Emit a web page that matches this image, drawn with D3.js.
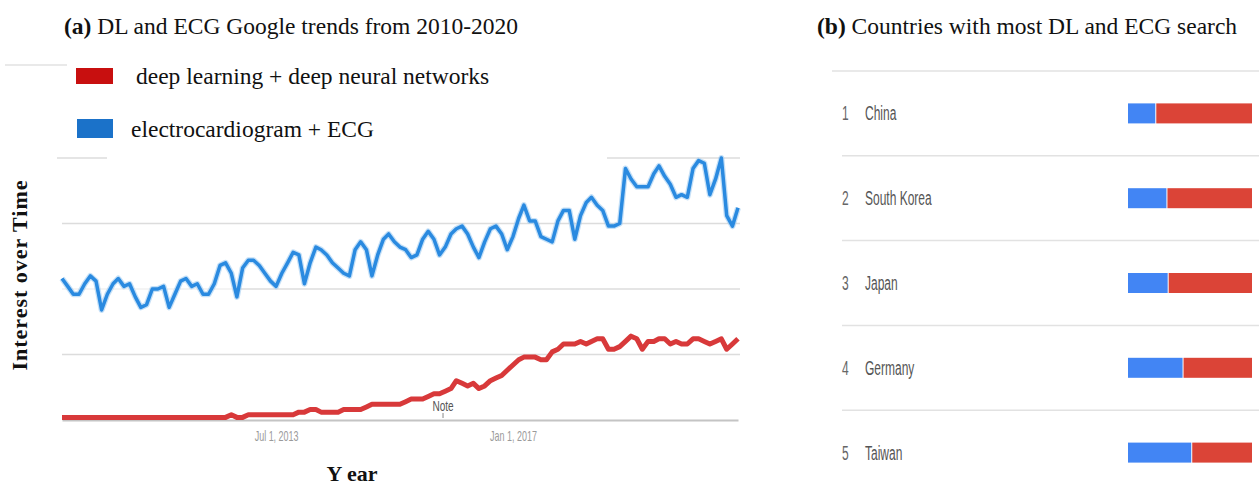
<!DOCTYPE html>
<html>
<head>
<meta charset="utf-8">
<script src="https://cdn.jsdelivr.net/npm/d3@7"></script>
<style>
  body { margin: 0; background: #fff; }
</style>
</head>
<body>
<script>
'use strict';

// monthly Google trends values, May 2010 - May 2020
const startMonth = new Date(2010, 4, 1);
const endMonth = new Date(2020, 4, 1);

const ecgTrend = [
  54, 51, 48, 48, 52, 55, 53, 42, 48, 52,
  54, 51, 52, 47, 43, 44, 50, 50, 51, 43,
  48, 53, 54, 51, 52, 48, 48, 52, 59, 60,
  56, 47, 58, 61, 61, 59, 56, 53, 51, 56,
  60, 64, 63, 52, 60, 66, 65, 63, 60, 58,
  56, 55, 65, 68, 65, 55, 63, 69, 71, 68,
  66, 65, 62, 63, 69, 72, 69, 63, 66, 71,
  73, 74, 71, 66, 62, 68, 73, 74, 71, 65,
  70, 77, 82, 76, 76, 70, 69, 68, 76, 80,
  80, 69, 78, 83, 85, 82, 80, 74, 74, 75,
  96, 92, 89, 89, 89, 94, 97, 93, 90, 85,
  86, 85, 96, 99, 98, 86, 92, 100, 78, 74,
  81
];

const dlTrend = [
  1, 1, 1, 1, 1, 1, 1, 1, 1, 1,
  1, 1, 1, 1, 1, 1, 1, 1, 1, 1,
  1, 1, 1, 1, 1, 1, 1, 1, 1, 1,
  2, 1, 1, 2, 2, 2, 2, 2, 2, 2,
  2, 2, 3, 3, 4, 4, 3, 3, 3, 3,
  4, 4, 4, 4, 5, 6, 6, 6, 6, 6,
  6, 7, 8, 8, 8, 9, 10, 10, 11, 12,
  15, 14, 13, 14, 12, 13, 15, 16, 17, 19,
  21, 23, 24, 24, 24, 23, 23, 26, 27, 29,
  29, 29, 30, 29, 30, 31, 31, 27, 27, 28,
  30, 32, 31, 27, 30, 30, 31, 31, 29, 30,
  29, 29, 31, 31, 30, 29, 30, 31, 27, 29,
  31
];

const trendTicks = [new Date(2013, 6, 1), new Date(2017, 0, 1)];
const gridValues = [25, 75];
const noteDate = new Date(2015, 11, 20);

const legendLabels = ["deep learning + deep neural networks", "electrocardiogram + ECG"];

// countries with most searches, share of ECG (blue) vs DL (red)
const countries = ["China", "South Korea", "Japan", "Germany", "Taiwan"];
const ecgShare = [22, 31, 32, 44, 51];
const dlShare = [78, 69, 68, 56, 49];

(function() {

  let svg = "";
  let map = "";
  const lineBlue = "#2a8ae0";
  const lineRed = "#d8393a";
  const barBlue = "#4285f4";
  const barRed = "#db4437";
  const serif = "'Liberation Serif', 'Times New Roman', serif";
  const sans = "'Liberation Sans', Arial, sans-serif";

  window.onload = function() {
    svg = d3.select('body')
      .append('svg')
      .attr('width', 1259)
      .attr('height', 486)
      .style('display', 'block')
      .style('background', '#fff');

    map = drawAxes();
    plotTrends(map);
    makeLegend();
    makeLabels();
    makeCountries();
  }

  // gridlines, baseline, date ticks
  function drawAxes() {
    let xScale = d3.scaleTime()
      .domain([startMonth, endMonth])
      .range([62, 738]);

    let yScale = d3.scaleLinear()
      .domain([0, 100])
      .range([420, 158]);

    let grid = svg.append('g');
    grid.selectAll('line')
      .data(gridValues)
      .enter()
      .append('line')
        .attr('x1', 62)
        .attr('x2', 740)
        .attr('y1', d => yScale(d))
        .attr('y2', d => yScale(d))
        .attr('stroke', '#dcdcdc')
        .attr('stroke-width', 1.5);

    // the 50 and 100 gridlines are partly covered in the original
    grid.append('line')
      .attr('x1', 62).attr('x2', 240)
      .attr('y1', yScale(50)).attr('y2', yScale(50))
      .attr('stroke', '#f0f0f0')
      .attr('stroke-width', 1.5);
    grid.append('line')
      .attr('x1', 240).attr('x2', 740)
      .attr('y1', yScale(50)).attr('y2', yScale(50))
      .attr('stroke', '#dcdcdc')
      .attr('stroke-width', 1.5);
    [[57, 107], [607, 740]].forEach(function(s) {
      grid.append('line')
        .attr('x1', s[0]).attr('x2', s[1])
        .attr('y1', yScale(100)).attr('y2', yScale(100))
        .attr('stroke', '#dcdcdc')
        .attr('stroke-width', 1.5);
    });
    grid.append('line')
      .attr('x1', 5).attr('x2', 67)
      .attr('y1', 65).attr('y2', 65)
      .attr('stroke', '#e2e2e2')
      .attr('stroke-width', 1.5);

    let xAxis = d3.axisBottom(xScale)
      .tickValues(trendTicks)
      .tickSize(0)
      .tickPadding(0)
      .tickFormat(d3.timeFormat('%b %-d, %Y'));

    let axis = svg.append('g')
      .attr('transform', 'translate(0, 420)')
      .call(xAxis);
    axis.select('.domain')
      .attr('stroke', '#c4c4c4')
      .attr('stroke-width', 2);
    axis.selectAll('.tick text')
      .attr('y', 0)
      .attr('dy', 0)
      .attr('transform', 'translate(0, 21) scale(0.64, 1)')
      .style('font-family', sans)
      .style('font-size', '14px')
      .attr('fill', '#9a9a9a');

    return { x: xScale, y: yScale };
  }

  // draw both trend lines
  function plotTrends(map) {
    let months = d3.timeMonth.range(startMonth, d3.timeMonth.offset(endMonth, 1));

    let line = d3.line()
      .x((d, i) => map.x(months[i]))
      .y(d => map.y(d));

    // soft halo like the screenshot
    svg.append('path')
      .datum(ecgTrend)
      .attr('d', line)
      .attr('fill', 'none')
      .attr('stroke', '#9fcbf2')
      .attr('stroke-width', 6)
      .attr('stroke-linejoin', 'round')
      .attr('opacity', 0.6);
    svg.append('path')
      .datum(ecgTrend)
      .attr('d', line)
      .attr('fill', 'none')
      .attr('stroke', lineBlue)
      .attr('stroke-width', 3.5)
      .attr('stroke-linejoin', 'round');

    svg.append('path')
      .datum(dlTrend)
      .attr('d', line)
      .attr('fill', 'none')
      .attr('stroke', lineRed)
      .attr('stroke-width', 5)
      .attr('stroke-linejoin', 'round');

    // "Note" marker
    let nx = map.x(noteDate);
    svg.append('line')
      .attr('x1', nx).attr('x2', nx)
      .attr('y1', 413).attr('y2', 418)
      .attr('stroke', '#888')
      .attr('stroke-width', 1);
    svg.append('text')
      .attr('transform', 'translate(' + nx + ', 411) scale(0.72, 1)')
      .attr('text-anchor', 'middle')
      .style('font-family', sans)
      .style('font-size', '14px')
      .attr('fill', '#555')
      .text('Note');
  }

  // legend at top left
  function makeLegend() {
    let boxes = [
      { x: 76, y: 68, w: 37, h: 16, fill: '#c80f0f', tx: 136, ty: 84 },
      { x: 77, y: 119, w: 36, h: 19, fill: '#1b72c9', tx: 131, ty: 137 }
    ];

    let items = svg.selectAll('.legend')
      .data(legendLabels)
      .enter()
      .append('g')
        .attr('class', 'legend');

    items.append('rect')
      .attr('x', (d, i) => boxes[i].x)
      .attr('y', (d, i) => boxes[i].y)
      .attr('width', (d, i) => boxes[i].w)
      .attr('height', (d, i) => boxes[i].h)
      .attr('fill', (d, i) => boxes[i].fill);

    items.append('text')
      .attr('x', (d, i) => boxes[i].tx)
      .attr('y', (d, i) => boxes[i].ty)
      .style('font-family', serif)
      .style('font-size', '23.5px')
      .attr('fill', '#111')
      .text(d => d);
  }

  // titles and axis labels
  function makeLabels() {
    let ta = svg.append('text')
      .attr('x', 64)
      .attr('y', 34)
      .style('font-family', serif)
      .style('font-size', '23.5px')
      .attr('fill', '#111');
    ta.append('tspan').style('font-weight', 'bold').text('(a)');
    ta.append('tspan').text(' DL and ECG Google trends from 2010-2020');

    let tb = svg.append('text')
      .attr('x', 817)
      .attr('y', 34)
      .style('font-family', serif)
      .style('font-size', '23.5px')
      .attr('fill', '#111');
    tb.append('tspan').style('font-weight', 'bold').text('(b)');
    tb.append('tspan').text(' Countries with most DL and ECG search');

    svg.append('text')
      .attr('transform', 'translate(27, 275)rotate(-90)')
      .attr('text-anchor', 'middle')
      .style('font-family', serif)
      .style('font-size', '22px')
      .style('font-weight', 'bold')
      .style('letter-spacing', '1px')
      .attr('fill', '#111')
      .text('Interest over Time');

    svg.append('text')
      .attr('x', 352)
      .attr('y', 481)
      .attr('text-anchor', 'middle')
      .style('font-family', serif)
      .style('font-size', '22px')
      .style('font-weight', 'bold')
      .attr('fill', '#111')
      .text('Y ear');
  }

  // right panel: ranked countries with stacked share bars
  function makeCountries() {
    let yBand = d3.scaleBand()
      .domain(countries)
      .range([71, 71 + 84.8 * countries.length]);

    let xShare = d3.scaleLinear()
      .domain([0, 100])
      .range([1128, 1252]);

    let rows = svg.selectAll('.country')
      .data(countries)
      .enter()
      .append('g')
        .attr('class', 'country')
        .attr('transform', d => 'translate(0,' + yBand(d) + ')');

    rows.append('line')
      .attr('x1', (d, i) => i == 0 ? 832 : 842)
      .attr('x2', 1259)
      .attr('y1', 0).attr('y2', 0)
      .attr('stroke', '#e2e2e2')
      .attr('stroke-width', 1.5);

    let mid = yBand.bandwidth() / 2;

    rows.append('text')
      .attr('transform', 'translate(842,' + (mid + 7) + ') scale(0.6, 1)')
      .style('font-family', sans)
      .style('font-size', '20px')
      .attr('fill', '#666')
      .text((d, i) => i + 1);

    rows.append('text')
      .attr('transform', 'translate(865,' + (mid + 7) + ') scale(0.6, 1)')
      .style('font-family', sans)
      .style('font-size', '20px')
      .attr('fill', '#555')
      .text(d => d);

    rows.append('rect')
      .attr('x', xShare(0))
      .attr('y', mid - 10)
      .attr('width', (d, i) => xShare(ecgShare[i]) - xShare(0))
      .attr('height', 20)
      .attr('fill', barBlue);

    rows.append('rect')
      .attr('x', (d, i) => xShare(ecgShare[i]) + 1)
      .attr('y', mid - 10)
      .attr('width', (d, i) => xShare(ecgShare[i] + dlShare[i]) - xShare(ecgShare[i]) - 1)
      .attr('height', 20)
      .attr('fill', barRed);
  }

})();
</script>
</body>
</html>
